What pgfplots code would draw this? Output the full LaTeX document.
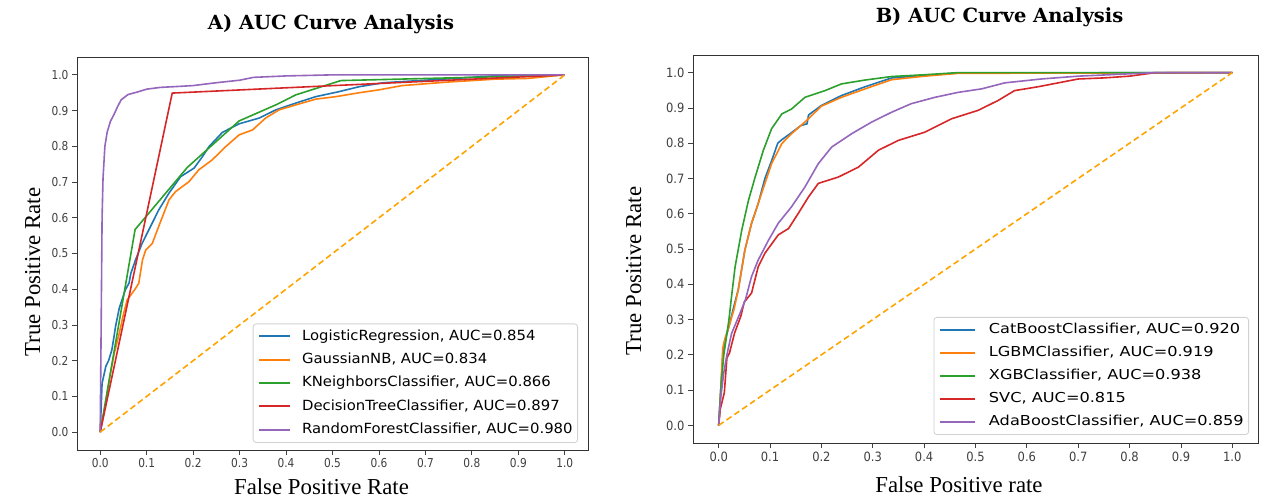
\documentclass[border=0pt]{standalone}
\usepackage{pgfplots}
\pgfplotsset{compat=1.18}
\usepackage{fontspec}
\setmainfont{Liberation Serif}
\newfontfamily\tickA[FakeStretch=0.86]{DejaVu Sans}
\newfontfamily\tickB[FakeStretch=0.9]{DejaVu Sans}
\newfontfamily\legA[FakeStretch=1.06]{DejaVu Sans}
\newfontfamily\legB[FakeStretch=1.18]{DejaVu Sans}
\newfontfamily\titlefont{DejaVu Serif}

\definecolor{tabblue}{HTML}{1F77B4}
\definecolor{taborange}{HTML}{FF7F0E}
\definecolor{tabgreen}{HTML}{2CA02C}
\definecolor{tabred}{HTML}{D62728}
\definecolor{tabpurple}{HTML}{9467BD}
\definecolor{diag}{HTML}{FFA500}

\pgfplotsset{
  rocaxis/.style={
    scale only axis, anchor=south west,
    xmin=-0.05, xmax=1.05, ymin=-0.05, ymax=1.05,
    xtick={0,0.1,0.2,0.3,0.4,0.5,0.6,0.7,0.8,0.9,1},
    ytick={0,0.1,0.2,0.3,0.4,0.5,0.6,0.7,0.8,0.9,1},
    xticklabels={0.0,0.1,0.2,0.3,0.4,0.5,0.6,0.7,0.8,0.9,1.0},
    yticklabels={0.0,0.1,0.2,0.3,0.4,0.5,0.6,0.7,0.8,0.9,1.0},
    tick pos=left, tick align=outside,
    major tick length=5pt,
    tick style={black!75, line width=0.8pt},
    axis line style={black!80, line width=0.9pt},
    ticklabel style={text=black!75},
    legend cell align=left,
    every axis plot/.append style={line width=1.6pt},
  },
}

\begin{document}
\begin{tikzpicture}
\path[fill=white, use as bounding box] (0pt,0pt) rectangle (1264pt,500pt);

% ---------------- panel A ----------------
\begin{axis}[rocaxis,
  at={(77pt,50pt)}, width=511pt, height=393pt,
  ticklabel style={font=\tickA\fontsize{12.3}{14}\selectfont},
  legend style={at={(1,0)}, anchor=south east, xshift=-10pt, yshift=7pt,
    draw=black!18, line width=0.8pt, rounded corners=3pt, fill=white,
    inner xsep=5pt, inner ysep=6pt,
    font=\legA\fontsize{14}{17}\selectfont,
    nodes={inner sep=0pt, text height=10.5pt, text depth=3pt},
    row sep=9.8pt,
    /tikz/every odd column/.append style={column sep=11pt}},
  legend image code/.code={\draw[#1, line width=2pt] (0pt,0.3pt) -- (31pt,0.3pt);},
]
\addplot[tabblue] coordinates {
(0,0)(0.002,0.07)(0.004,0.137)(0.008,0.16)(0.012,0.184)(0.018,0.2)(0.025,0.23)
(0.03,0.27)(0.033,0.296)(0.041,0.347)(0.054,0.398)(0.062,0.417)(0.066,0.445)
(0.076,0.482)(0.09,0.528)(0.108,0.575)(0.126,0.622)(0.148,0.669)(0.173,0.715)
(0.202,0.739)(0.22,0.771)(0.234,0.799)(0.263,0.839)(0.299,0.863)(0.342,0.879)
(0.378,0.902)(0.421,0.921)(0.464,0.939)(0.514,0.953)(0.558,0.967)(0.61,0.978)
(0.7,0.985)(0.8,0.993)(0.88,1.0)(1,1)};
\addlegendentry{LogisticRegression, AUC=0.854}
\addplot[taborange] coordinates {
(0,0)(0.01,0.07)(0.02,0.15)(0.03,0.22)(0.041,0.277)(0.05,0.33)(0.058,0.37)
(0.075,0.4)(0.083,0.417)(0.091,0.482)(0.098,0.51)(0.112,0.528)(0.123,0.566)
(0.134,0.603)(0.148,0.65)(0.162,0.673)(0.191,0.701)(0.212,0.734)(0.241,0.762)
(0.27,0.799)(0.299,0.832)(0.328,0.846)(0.356,0.879)(0.385,0.902)(0.421,0.916)
(0.464,0.932)(0.507,0.939)(0.558,0.95)(0.6,0.958)(0.65,0.97)(0.75,0.98)
(0.85,0.988)(0.92,0.99)(1,1)};
\addlegendentry{GaussianNB, AUC=0.834}
\addplot[tabgreen] coordinates {
(0,0)(0.075,0.567)(0.1875,0.741)(0.299,0.871)(0.378,0.916)(0.421,0.944)
(0.518,0.984)(0.8,0.993)(1,1)};
\addlegendentry{KNeighborsClassifier, AUC=0.866}
\addplot[tabred] coordinates {
(0,0)(0.155,0.949)(1,1)};
\addlegendentry{DecisionTreeClassifier, AUC=0.897}
\addplot[tabpurple] coordinates {
(0,0)(0.002,0.3)(0.004,0.6)(0.006,0.71)(0.01,0.8)(0.015,0.84)(0.022,0.87)
(0.03,0.89)(0.037,0.91)(0.045,0.93)(0.06,0.945)(0.08,0.952)(0.1,0.96)
(0.13,0.965)(0.16,0.967)(0.2,0.97)(0.25,0.978)(0.3,0.985)(0.33,0.993)
(0.4,0.997)(0.5,1.0)(1,1)};
\addlegendentry{RandomForestClassifier, AUC=0.980}
\addplot[diag, dash pattern=on 6pt off 3.5pt, forget plot] coordinates {(0,0)(1,1)};
\end{axis}

% ---------------- panel B ----------------
\begin{axis}[rocaxis,
  at={(693pt,57pt)}, width=565pt, height=388pt,
  ticklabel style={font=\tickB\fontsize{12.8}{15}\selectfont},
  legend style={at={(1,0)}, anchor=south east, xshift=-9pt, yshift=8pt,
    draw=black!18, line width=0.8pt, rounded corners=3pt, fill=white,
    inner xsep=5pt, inner ysep=6pt,
    font=\legB\fontsize{13.7}{16}\selectfont,
    nodes={inner sep=0pt, text height=10.2pt, text depth=3pt},
    row sep=9.8pt,
    /tikz/every odd column/.append style={column sep=13pt}},
  legend image code/.code={\draw[#1, line width=2pt] (0pt,0.3pt) -- (35pt,0.3pt);},
]
\addplot[tabblue] coordinates {
(0,0)(0.004,0.1)(0.008,0.2)(0.012,0.24)(0.02,0.28)(0.03,0.34)(0.038,0.384)
(0.051,0.497)(0.064,0.573)(0.077,0.629)(0.09,0.7)(0.103,0.75)(0.115,0.8)
(0.123,0.81)(0.142,0.83)(0.16,0.85)(0.172,0.855)(0.175,0.88)(0.2,0.907)
(0.239,0.935)(0.285,0.96)(0.337,0.985)(0.401,0.992)(0.466,0.999)(1,1)};
\addlegendentry{CatBoostClassifier, AUC=0.920}
\addplot[taborange] coordinates {
(0,0)(0.004,0.1)(0.008,0.22)(0.012,0.245)(0.02,0.28)(0.03,0.33)(0.038,0.384)
(0.051,0.497)(0.064,0.573)(0.077,0.629)(0.09,0.686)(0.103,0.742)(0.123,0.799)
(0.142,0.827)(0.168,0.86)(0.2,0.905)(0.239,0.93)(0.285,0.954)(0.337,0.98)
(0.401,0.99)(0.466,0.998)(1,1)};
\addlegendentry{LGBMClassifier, AUC=0.919}
\addplot[tabgreen] coordinates {
(0,0)(0.002,0.05)(0.005,0.12)(0.01,0.2)(0.015,0.25)(0.02,0.3)(0.025,0.365)
(0.032,0.45)(0.045,0.554)(0.058,0.638)(0.071,0.704)(0.087,0.78)(0.103,0.841)
(0.123,0.883)(0.142,0.897)(0.168,0.93)(0.207,0.949)(0.239,0.968)(0.285,0.979)
(0.337,0.989)(0.401,0.994)(0.466,1.0)(1,1)};
\addlegendentry{XGBClassifier, AUC=0.938}
\addplot[tabred] coordinates {
(0,0)(0.003,0.045)(0.011,0.093)(0.016,0.191)(0.021,0.205)(0.031,0.262)
(0.043,0.309)(0.05,0.35)(0.064,0.375)(0.077,0.45)(0.09,0.488)(0.116,0.54)
(0.136,0.558)(0.155,0.601)(0.175,0.648)(0.194,0.686)(0.233,0.704)(0.272,0.732)
(0.311,0.78)(0.35,0.808)(0.401,0.831)(0.453,0.869)(0.505,0.893)(0.544,0.921)
(0.576,0.949)(0.622,0.96)(0.7,0.982)(0.75,0.985)(0.8,0.99)(0.85,1.0)(1,1)};
\addlegendentry{SVC, AUC=0.815}
\addplot[tabpurple] coordinates {
(0,0)(0.004,0.08)(0.01,0.15)(0.016,0.2)(0.025,0.26)(0.039,0.309)(0.052,0.356)
(0.064,0.422)(0.077,0.469)(0.097,0.525)(0.116,0.573)(0.142,0.62)(0.168,0.676)
(0.194,0.742)(0.22,0.789)(0.259,0.827)(0.298,0.86)(0.337,0.888)(0.375,0.912)
(0.421,0.93)(0.466,0.944)(0.512,0.954)(0.557,0.971)(0.596,0.977)(0.628,0.982)
(0.7,0.99)(0.85,1.0)(1,1)};
\addlegendentry{AdaBoostClassifier, AUC=0.859}
\addplot[diag, dash pattern=on 6pt off 3.5pt, forget plot] coordinates {(0,0)(1,1)};
\end{axis}

% titles and axis labels
\node[anchor=base, font=\titlefont\bfseries\fontsize{19.5}{22}\selectfont] at (331pt,470pt) {A) AUC Curve Analysis};
\node[anchor=base, font=\titlefont\bfseries\fontsize{19.5}{22}\selectfont] at (999.5pt,477pt) {B) AUC Curve Analysis};
\node[anchor=base, font=\fontsize{22.8}{26}\selectfont] at (321.5pt,5pt) {False Positive Rate};
\node[anchor=base, font=\fontsize{22.8}{26}\selectfont] at (959pt,7pt) {False Positive rate};
\node[anchor=base, rotate=90, font=\fontsize{22.8}{26}\selectfont] at (40pt,228pt) {True Positive Rate};
\node[anchor=base, rotate=90, font=\fontsize{22.8}{26}\selectfont] at (641pt,229pt) {True Positive Rate};
\end{tikzpicture}
\end{document}
